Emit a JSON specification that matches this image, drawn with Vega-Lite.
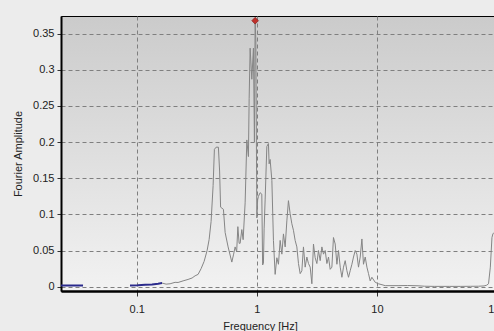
{
  "$schema": "https://vega.github.io/schema/vega-lite/v6.json",
  "width": 436,
  "height": 275,
  "autosize": {"type": "none"},
  "padding": {"left": 61, "top": 16, "right": 0, "bottom": 40},
  "background": "#ececec",
  "config": {
    "view": {"stroke": "#000000", "strokeWidth": 1, "fill": {"gradient": "linear", "x1": 0, "y1": 0, "x2": 0, "y2": 1, "stops": [{"offset": 0, "color": "#cbcbcb"}, {"offset": 1, "color": "#f2f2f2"}]}},
    "font": "Liberation Sans"
  },
  "datasets": {
    "spec": [
      {"f": 0.0234, "a": 0.0015, "s": "b1"}, {"f": 0.0253, "a": 0.0016, "s": "b1"}, {"f": 0.0278, "a": 0.0016, "s": "b1"}, {"f": 0.0306, "a": 0.0017, "s": "b1"}, {"f": 0.0357, "a": 0.0015, "s": "b1"},
      {"f": 0.0879, "a": 0.0015, "s": "b2"}, {"f": 0.1025, "a": 0.0018, "s": "b2"}, {"f": 0.1173, "a": 0.0025, "s": "b2"}, {"f": 0.134, "a": 0.003, "s": "b2"}, {"f": 0.1505, "a": 0.004, "s": "b2"}, {"f": 0.1625, "a": 0.005, "s": "b2"},
      {"f": 0.1625, "a": 0.005, "s": "g"}, {"f": 0.1755, "a": 0.0035, "s": "g"}, {"f": 0.1895, "a": 0.004, "s": "g"}, {"f": 0.2085, "a": 0.006, "s": "g"}, {"f": 0.2208, "a": 0.0058, "s": "g"}, {"f": 0.243, "a": 0.008, "s": "g"}, {"f": 0.2676, "a": 0.01, "s": "g"}, {"f": 0.289, "a": 0.012, "s": "g"}, {"f": 0.306, "a": 0.015, "s": "g"}, {"f": 0.3243, "a": 0.017, "s": "g"}, {"f": 0.3436, "a": 0.025, "s": "g"}, {"f": 0.364, "a": 0.035, "s": "g"}, {"f": 0.3854, "a": 0.05, "s": "g"}, {"f": 0.4004, "a": 0.065, "s": "g"}, {"f": 0.416, "a": 0.09, "s": "g"}, {"f": 0.4325, "a": 0.14, "s": "g"}, {"f": 0.4433, "a": 0.19, "s": "g"}, {"f": 0.458, "a": 0.193, "s": "g"}, {"f": 0.4786, "a": 0.193, "s": "g"}, {"f": 0.4898, "a": 0.16, "s": "g"}, {"f": 0.4993, "a": 0.11, "s": "g"}, {"f": 0.527, "a": 0.107, "s": "g"}, {"f": 0.5445, "a": 0.075, "s": "g"}, {"f": 0.5765, "a": 0.055, "s": "g"}, {"f": 0.619, "a": 0.034, "s": "g"}, {"f": 0.641, "a": 0.045, "s": "g"}, {"f": 0.6596, "a": 0.055, "s": "g"}, {"f": 0.679, "a": 0.048, "s": "g"}, {"f": 0.695, "a": 0.083, "s": "g"}, {"f": 0.712, "a": 0.06, "s": "g"}, {"f": 0.726, "a": 0.06, "s": "g"}, {"f": 0.75, "a": 0.079, "s": "g"}, {"f": 0.769, "a": 0.065, "s": "g"}, {"f": 0.799, "a": 0.116, "s": "g"}, {"f": 0.8253, "a": 0.203, "s": "g"}, {"f": 0.851, "a": 0.18, "s": "g"}, {"f": 0.863, "a": 0.26, "s": "g"}, {"f": 0.8794, "a": 0.33, "s": "g"}, {"f": 0.9085, "a": 0.287, "s": "g"}, {"f": 0.937, "a": 0.33, "s": "g"}, {"f": 0.955, "a": 0.2, "s": "g"}, {"f": 0.968, "a": 0.368, "s": "g"}, {"f": 0.981, "a": 0.34, "s": "g"}, {"f": 1.0, "a": 0.095, "s": "g"}, {"f": 1.0155, "a": 0.12, "s": "g"}, {"f": 1.031, "a": 0.125, "s": "g"}, {"f": 1.0654, "a": 0.13, "s": "g"}, {"f": 1.1, "a": 0.128, "s": "g"}, {"f": 1.117, "a": 0.03, "s": "g"}, {"f": 1.135, "a": 0.032, "s": "g"}, {"f": 1.15, "a": 0.08, "s": "g"}, {"f": 1.1725, "a": 0.12, "s": "g"}, {"f": 1.2115, "a": 0.194, "s": "g"}, {"f": 1.249, "a": 0.198, "s": "g"}, {"f": 1.266, "a": 0.17, "s": "g"}, {"f": 1.29, "a": 0.176, "s": "g"}, {"f": 1.334, "a": 0.147, "s": "g"}, {"f": 1.375, "a": 0.064, "s": "g"}, {"f": 1.4206, "a": 0.017, "s": "g"}, {"f": 1.468, "a": 0.04, "s": "g"}, {"f": 1.514, "a": 0.031, "s": "g"}, {"f": 1.564, "a": 0.064, "s": "g"}, {"f": 1.616, "a": 0.045, "s": "g"}, {"f": 1.666, "a": 0.073, "s": "g"}, {"f": 1.7216, "a": 0.055, "s": "g"}, {"f": 1.778, "a": 0.091, "s": "g"}, {"f": 1.8337, "a": 0.119, "s": "g"}, {"f": 1.894, "a": 0.101, "s": "g"}, {"f": 1.957, "a": 0.087, "s": "g"}, {"f": 2.018, "a": 0.078, "s": "g"}, {"f": 2.085, "a": 0.064, "s": "g"}, {"f": 2.154, "a": 0.055, "s": "g"}, {"f": 2.2225, "a": 0.032, "s": "g"}, {"f": 2.296, "a": 0.018, "s": "g"}, {"f": 2.371, "a": 0.022, "s": "g"}, {"f": 2.445, "a": 0.055, "s": "g"}, {"f": 2.5265, "a": 0.027, "s": "g"}, {"f": 2.61, "a": 0.041, "s": "g"}, {"f": 2.692, "a": 0.032, "s": "g"}, {"f": 2.781, "a": 0.027, "s": "g"}, {"f": 2.873, "a": 0.004, "s": "g"}, {"f": 2.963, "a": 0.059, "s": "g"}, {"f": 3.0607, "a": 0.04, "s": "g"}, {"f": 3.162, "a": 0.032, "s": "g"}, {"f": 3.2613, "a": 0.05, "s": "g"}, {"f": 3.3697, "a": 0.036, "s": "g"}, {"f": 3.4807, "a": 0.055, "s": "g"}, {"f": 3.59, "a": 0.045, "s": "g"}, {"f": 3.7095, "a": 0.05, "s": "g"}, {"f": 3.831, "a": 0.032, "s": "g"}, {"f": 3.952, "a": 0.041, "s": "g"}, {"f": 4.081, "a": 0.024, "s": "g"}, {"f": 4.217, "a": 0.027, "s": "g"}, {"f": 4.347, "a": 0.068, "s": "g"}, {"f": 4.493, "a": 0.059, "s": "g"}, {"f": 4.642, "a": 0.031, "s": "g"}, {"f": 4.786, "a": 0.05, "s": "g"}, {"f": 4.9466, "a": 0.027, "s": "g"}, {"f": 5.109, "a": 0.013, "s": "g"}, {"f": 5.268, "a": 0.027, "s": "g"}, {"f": 5.443, "a": 0.036, "s": "g"}, {"f": 5.623, "a": 0.022, "s": "g"}, {"f": 5.8, "a": 0.013, "s": "g"}, {"f": 5.99, "a": 0.022, "s": "g"}, {"f": 6.19, "a": 0.031, "s": "g"}, {"f": 6.383, "a": 0.041, "s": "g"}, {"f": 6.596, "a": 0.05, "s": "g"}, {"f": 6.813, "a": 0.045, "s": "g"}, {"f": 7.027, "a": 0.027, "s": "g"}, {"f": 7.26, "a": 0.041, "s": "g"}, {"f": 7.499, "a": 0.066, "s": "g"}, {"f": 7.73, "a": 0.031, "s": "g"}, {"f": 7.99, "a": 0.041, "s": "g"}, {"f": 8.254, "a": 0.027, "s": "g"}, {"f": 8.51, "a": 0.018, "s": "g"}, {"f": 8.79, "a": 0.008, "s": "g"}, {"f": 9.08, "a": 0.013, "s": "g"}, {"f": 9.68, "a": 0.006, "s": "g"}, {"f": 10.31, "a": 0.004, "s": "g"}, {"f": 11.73, "a": 0.0014, "s": "g"}, {"f": 15, "a": 0.0014, "s": "g"}, {"f": 18, "a": 0.0016, "s": "g"}, {"f": 22, "a": 0.0012, "s": "g"}, {"f": 25, "a": 0.0006, "s": "g"}, {"f": 30, "a": 0.0004, "s": "g"}, {"f": 40, "a": 0.0004, "s": "g"}, {"f": 50, "a": 0.0004, "s": "g"}, {"f": 60, "a": 0.0005, "s": "g"}, {"f": 70, "a": 0.0006, "s": "g"}, {"f": 78, "a": 0.001, "s": "g"}, {"f": 82, "a": 0.002, "s": "g"}, {"f": 85, "a": 0.004, "s": "g"}, {"f": 88, "a": 0.027, "s": "g"}, {"f": 90.8, "a": 0.068, "s": "g"}, {"f": 92.4, "a": 0.073, "s": "g"}, {"f": 95, "a": 0.075, "s": "g"}, {"f": 100, "a": 0.08, "s": "g"}
    ],
    "peak": [{"f": 0.968, "a": 0.368}]
  },
  "encoding": {
    "x": {"field": "f", "type": "quantitative", "scale": {"type": "log", "domain": [0.0234, 100], "nice": false},
      "axis": {"title": "Frequency [Hz]", "values": [0.1, 1, 10, 100], "format": "~g", "grid": true, "gridColor": "#7f7f7f", "gridDash": [4, 3], "gridWidth": 1, "domainColor": "#000000", "domainWidth": 2.5, "tickColor": "#333333", "tickSize": 5, "labelPadding": 7, "labelFlush": false, "labelOverlap": false, "labelFontSize": 11, "labelColor": "#222222", "titleFontSize": 11, "titleFontWeight": "normal", "titleColor": "#222222", "titleX": 199, "titleY": 35, "titleBaseline": "middle", "titleAlign": "center"}},
    "y": {"field": "a", "type": "quantitative", "scale": {"domain": [-0.006, 0.3745], "nice": false, "zero": false},
      "axis": {"title": "Fourier Amplitude", "values": [0, 0.05, 0.1, 0.15, 0.2, 0.25, 0.3, 0.35], "format": "~g", "grid": true, "gridColor": "#7f7f7f", "gridDash": [4, 3], "gridWidth": 1, "domainColor": "#000000", "domainWidth": 2, "tickColor": "#333333", "tickSize": 4, "labelPadding": 3, "labelFlush": false, "labelOverlap": false, "labelFontSize": 11, "labelColor": "#222222", "titleFontSize": 11, "titleFontWeight": "normal", "titleColor": "#222222", "titleX": -43, "titleY": 137.5, "titleBaseline": "middle", "titleAlign": "center", "titleAngle": -90}}
  },
  "layer": [
    {
      "data": {"name": "spec"},
      "transform": [{"filter": "datum.s !== 'g'"}],
      "mark": {"type": "line", "color": "#2a2a8c", "strokeWidth": 2},
      "encoding": {
        "detail": {"field": "s"}
      }
    },
    {
      "data": {"name": "spec"},
      "transform": [{"filter": "datum.s === 'g'"}],
      "mark": {"type": "line", "color": "#858585", "strokeWidth": 1},
      "encoding": {}
    },
    {
      "data": {"name": "peak"},
      "mark": {"type": "point", "shape": "diamond", "filled": true, "color": "#c0302a", "size": 45, "stroke": "#7a1a1a", "strokeWidth": 0.6, "opacity": 1},
      "encoding": {}
    }
  ]
}
